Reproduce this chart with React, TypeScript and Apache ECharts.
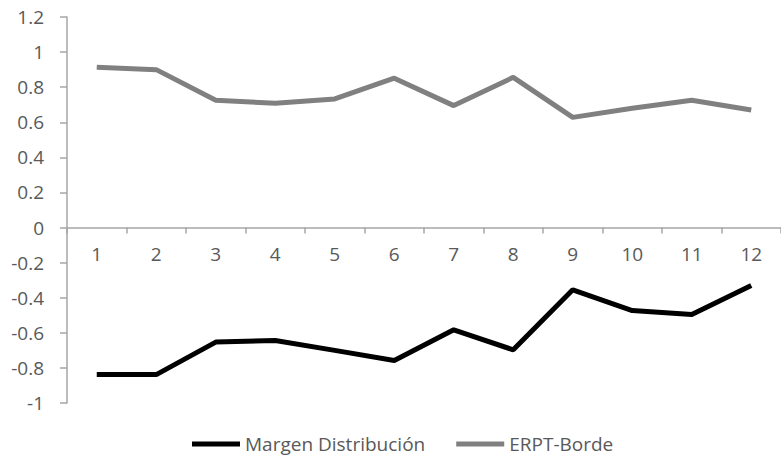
import React, { useEffect, useRef } from "react";
import * as echarts from "echarts";

const categories = ["1", "2", "3", "4", "5", "6", "7", "8", "9", "10", "11", "12"];
const margenDistribucion = [-0.838, -0.838, -0.653, -0.644, -0.70, -0.758, -0.583, -0.697, -0.355, -0.473, -0.496, -0.33];
const erptBorde = [0.913, 0.90, 0.725, 0.708, 0.733, 0.851, 0.695, 0.856, 0.628, 0.68, 0.725, 0.67];

const FONT = "'Open Sans', Lato, sans-serif";
const TEXT_COLOR = "#595959";
const AXIS_COLOR = "#a6a6a6";

const Y_MIN = -1;
const Y_MAX = 1.2;
const GRID_TOP = 17;
const GRID_BOTTOM = 56;
const CHART_H = 459;

// the category axis sits on the zero line: shift it up from the grid bottom
const plotH = CHART_H - GRID_TOP - GRID_BOTTOM;
const zeroOffset = -(plotH * (0 - Y_MIN)) / (Y_MAX - Y_MIN);

export default function App() {
  const ref = useRef<HTMLDivElement>(null);

  useEffect(() => {
    if (!ref.current) return;
    const chart = echarts.init(ref.current, null, { renderer: "svg" });
    chart.setOption({
      animation: false,
      backgroundColor: "#ffffff",
      textStyle: { fontFamily: FONT },
      grid: { left: 67, right: -10, top: GRID_TOP, bottom: GRID_BOTTOM, containLabel: false },
      legend: {
        left: 192,
        top: 434,
        padding: 0,
        icon: "rect",
        itemWidth: 48,
        itemHeight: 5,
        itemGap: 31,
        textStyle: { fontFamily: FONT, fontSize: 19, lineHeight: 20, color: TEXT_COLOR },
        data: ["Margen Distribución", "ERPT-Borde"],
      },
      xAxis: {
        type: "category",
        data: categories,
        boundaryGap: true,
        position: "bottom",
        offset: zeroOffset,
        axisLine: { onZero: false, lineStyle: { color: AXIS_COLOR, width: 1.5 } },
        axisTick: { show: true, length: 6, lineStyle: { color: AXIS_COLOR, width: 1.5 } },
        axisLabel: { margin: 17, fontSize: 19, color: TEXT_COLOR, fontFamily: FONT },
        splitLine: { show: false },
      },
      yAxis: {
        type: "value",
        min: Y_MIN,
        max: Y_MAX,
        interval: 0.2,
        axisLine: { show: true, lineStyle: { color: AXIS_COLOR, width: 1.5 } },
        axisTick: { show: true, length: 7, lineStyle: { color: AXIS_COLOR, width: 1.5 } },
        axisLabel: { margin: 23, fontSize: 19, color: TEXT_COLOR, fontFamily: FONT },
        splitLine: { show: false },
      },
      series: [
        {
          name: "Margen Distribución",
          type: "line",
          data: margenDistribucion,
          symbol: "none",
          lineStyle: { color: "#000000", width: 5 },
          itemStyle: { color: "#000000" },
        },
        {
          name: "ERPT-Borde",
          type: "line",
          data: erptBorde,
          symbol: "none",
          lineStyle: { color: "#808080", width: 5 },
          itemStyle: { color: "#808080" },
        },
      ],
    });
    return () => chart.dispose();
  }, []);

  return (
    <div
      ref={ref}
      style={{ position: "fixed", left: 0, top: 0, width: 781, height: CHART_H }}
    />
  );
}
